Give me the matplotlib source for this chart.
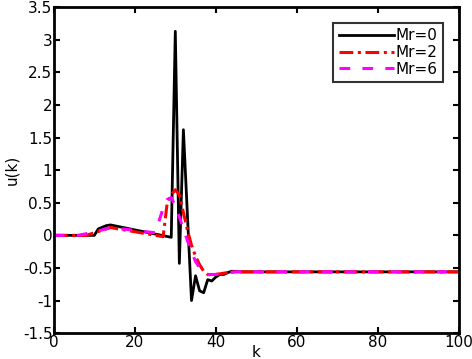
import matplotlib
matplotlib.use("Agg")
import matplotlib.pyplot as plt

plt.rcParams['font.family'] = ['DejaVu Sans']

# Mr=0 (black)
k0 = [0, 10, 11, 13, 14, 29, 30, 31, 32, 33, 34, 35, 36, 37, 38, 39, 40, 41, 42, 43, 44, 46, 100]
u0 = [0, 0, 0.10, 0.15, 0.16, -0.03, 3.13, -0.43, 1.62, 0.30, -1.00, -0.62, -0.85, -0.88, -0.68, -0.70,
      -0.64, -0.60, -0.60, -0.57, -0.55, -0.56, -0.56]

# Mr=2 (red)
k2 = [0, 8, 11, 14, 27, 28, 29, 30, 31, 32, 33, 34, 35, 36, 37, 38, 39, 40, 42, 44, 46, 100]
u2 = [0, 0, 0.06, 0.12, -0.02, 0.50, 0.62, 0.70, 0.62, 0.35, 0.08, -0.15, -0.32, -0.45, -0.55, -0.60,
      -0.61, -0.60, -0.58, -0.56, -0.56, -0.56]

# Mr=6 (magenta)
k6 = [0, 6, 10, 14, 25, 26, 27, 28, 29, 30, 31, 32, 33, 34, 35, 36, 37, 38, 40, 42, 45, 100]
u6 = [0, 0, 0.05, 0.12, 0.04, 0.22, 0.42, 0.55, 0.58, 0.45, 0.28, 0.10, -0.08, -0.25, -0.40, -0.50,
      -0.57, -0.60, -0.60, -0.58, -0.56, -0.56]

fig = plt.figure(figsize=(4.72, 3.59), dpi=100)
ax = fig.add_axes([0.114, 0.072, 0.858, 0.908])

ax.plot(k0, u0, color='black', lw=2, label='Mr=0')
ax.plot(k2, u2, color='red', lw=2.2, dashes=(4.5, 1.5, 1, 1.5), label='Mr=2')
ax.plot(k6, u6, color='magenta', lw=2.2, dashes=(3.5, 4), label='Mr=6')

ax.set_xlim(0, 100)
ax.set_ylim(-1.5, 3.5)
ax.set_xticks([0, 20, 40, 60, 80, 100])
ax.set_yticks([-1.5, -1, -0.5, 0, 0.5, 1, 1.5, 2, 2.5, 3, 3.5])
ax.set_yticklabels(['-1.5', '-1', '-0.5', '0', '0.5', '1', '1.5', '2', '2.5', '3', '3.5'])
ax.tick_params(direction='in', top=True, right=True, labelsize=11, length=4, width=1.5, pad=1)
for s in ax.spines.values():
    s.set_linewidth(2)
ax.set_xlabel('k', fontsize=11, va='center')
ax.xaxis.set_label_coords(0.5, -0.058)
ax.set_ylabel('u(k)', fontsize=11, va='center')
ax.yaxis.set_label_coords(-0.103, 0.5)

leg = ax.legend(loc='upper right', bbox_to_anchor=(0.96, 0.952), fontsize=11, handlelength=3.6,
                fancybox=False, edgecolor='black', borderpad=0.35,
                labelspacing=0.12, handletextpad=0.1, borderaxespad=0)
leg.get_frame().set_linewidth(1.5)

fig.savefig('out.png', dpi=100)
